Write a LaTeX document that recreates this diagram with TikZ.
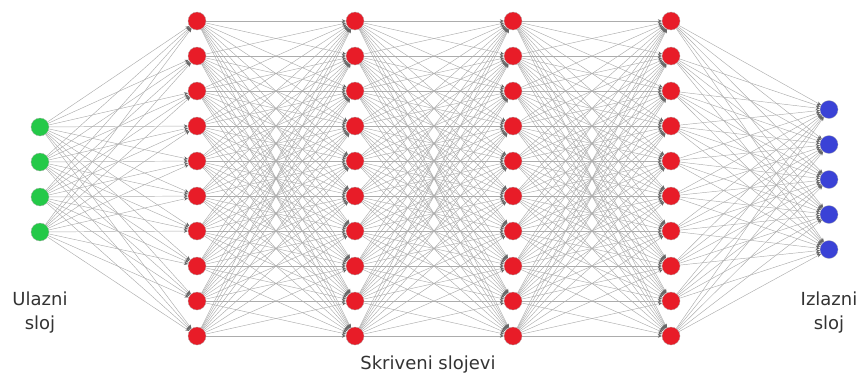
\documentclass[tikz,border=0pt]{standalone}
\usepackage{fontspec}
\setmainfont{DejaVu Sans}
\definecolor{InGreen}{RGB}{36, 201, 72}
\definecolor{HidRed}{RGB}{232, 28, 40}
\definecolor{OutBlue}{RGB}{58, 66, 214}
\usetikzlibrary{arrows.meta, positioning, backgrounds}

\begin{document}
\begin{tikzpicture}[x=1pt,y=-1pt,
	neuron/.style={circle,draw=gray!60,line width=0.3pt,minimum size=18pt,inner sep=0pt},
	edge/.style={gray!65,line width=0.45pt,-{Stealth[length=4pt,width=3.5pt,color=gray!80!black]}},
	layerlabel/.style={align=center,font=\fontsize{18}{24}\selectfont,text=black!80}]
\useasboundingbox (0,0) rectangle (861,378);
\foreach \i in {1,...,4}\node[neuron,fill=InGreen] (I\i) at (40,{92+35*\i}){};
\foreach \l/\x in {1/197,2/355,3/513,4/671}
  \foreach \j in {1,...,10}\node[neuron,fill=HidRed] (H\l-\j) at (\x,{-14+35*\j}){};
\foreach \k in {1,...,5}\node[neuron,fill=OutBlue] (O\k) at (829,{74.5+35*\k}){};
\begin{pgfonlayer}{background}
\foreach \a in {1,...,4}\foreach \b in {1,...,10}\draw[edge] (I\a)--(H1-\b);
\foreach \l/\n in {1/2,2/3,3/4}
  \foreach \a in {1,...,10}\foreach \b in {1,...,10}\draw[edge] (H\l-\a)--(H\n-\b);
\foreach \a in {1,...,10}\foreach \b in {1,...,5}\draw[edge] (H4-\a)--(O\b);
\end{pgfonlayer}
\node[layerlabel] (inlbl) at (40,313) {Ulazni\\sloj};
\node[layerlabel] (hidlbl) at (428,365) {Skriveni slojevi};
\node[layerlabel] (outlbl) at (829,313) {Izlazni\\sloj};
\end{tikzpicture}
\end{document}
